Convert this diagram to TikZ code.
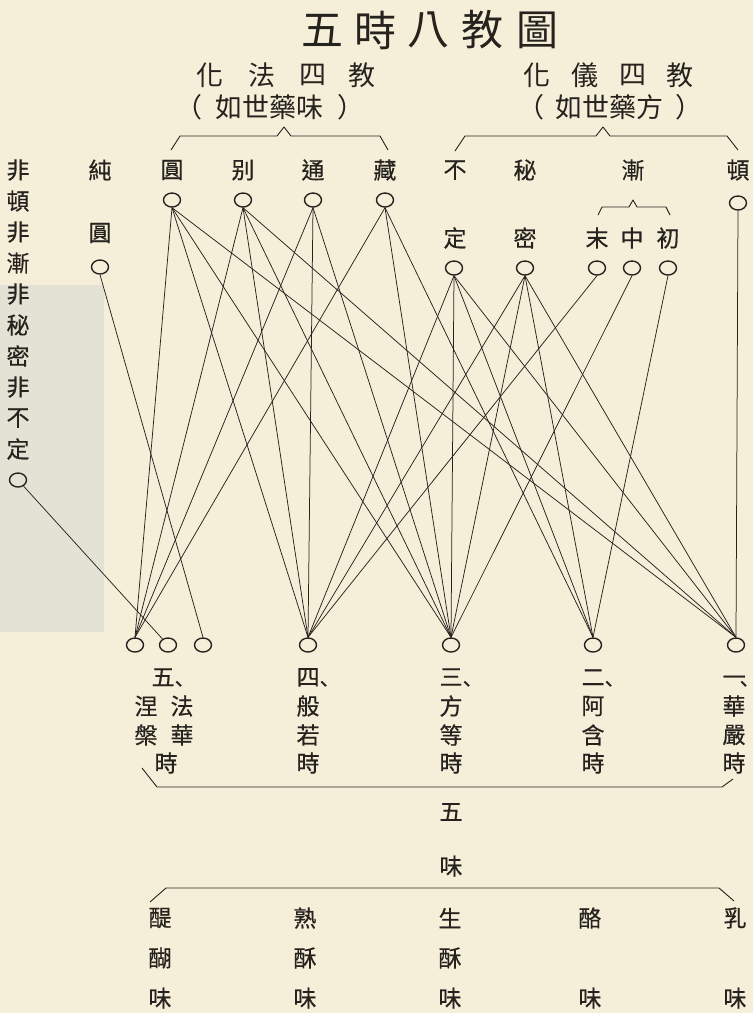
\documentclass[tikz,border=0pt]{standalone}
\usepackage{fontspec}
\newfontfamily\cjk{Noto Sans CJK TC}
\newfontfamily\cjkb[FakeBold=0.5]{Noto Sans CJK TC}
\newfontfamily\cjksc[FakeBold=0.5]{Noto Sans CJK SC}
\usetikzlibrary{shapes.geometric}
\definecolor{paper}{RGB}{245,239,217}
\definecolor{greybg}{RGB}{228,226,213}
\definecolor{ink}{RGB}{38,34,30}
\newcommand{\dunhao}{{\cjksc\fontsize{20}{20}\selectfont 、}}
\begin{document}
\begin{tikzpicture}[x=1pt,y=-1pt,
  lbl/.style={font=\cjkb\fontsize{23}{23}\selectfont, inner sep=0pt, text=ink},
  hd/.style={font=\cjk\fontsize{27}{27}\selectfont, inner sep=0pt, text=ink},
  ttl/.style={font=\cjk\fontsize{42}{42}\selectfont, inner sep=0pt, text=ink},
  num/.style={lbl, anchor=base west},
  dot/.style={ellipse, draw=ink, line width=1.4pt, minimum width=17pt, minimum height=14pt, inner sep=0pt},
  link/.style={draw=ink, line width=0.75pt},
  brk/.style={draw=ink, line width=0.9pt, line join=round},
]
\fill[paper] (0,0) rectangle (753,1013);
\useasboundingbox (0,0) rectangle (753,1013);
\fill[greybg] (0,285) rectangle (104,632);

% title
\foreach \c/\x [count=\i] in {五/322,時/375,八/428,教/482,圖/537}
  \node[ttl] (t\i) at (\x,30) {\c};
% headings
\foreach \c/\x [count=\i] in {化/210,法/262,四/313,教/362}
  \node[hd] (ha\i) at (\x,75) {\c};
\foreach \c/\x [count=\i] in {化/537,儀/585,四/633,教/680}
  \node[hd] (hb\i) at (\x,75) {\c};
\node[hd] (sa) at (270,107) {（\hspace{14pt}如世藥味\hspace{14pt}）};
\node[hd] (sb) at (610,107) {（\hspace{12pt}如世藥方\hspace{12pt}）};

% brackets on top
\draw[brk] (171,150) -- (180,136) -- (277,136) -- (284,127) -- (291,136) -- (380,136) -- (388,150);
\draw[brk] (455,151) -- (465,136) -- (596,136) -- (603,127) -- (610,136) -- (727,136) -- (738,150);
\draw[brk] (598,215) -- (602,207) -- (629,207) -- (633,200) -- (637,207) -- (666,207) -- (670,215);

% left column
\foreach \c [count=\i] in {非,頓,非,漸,非,秘,密,非,不,定}
  \node[lbl] (nn\i) at (18,{170+31*(\i-1)}) {\c};
\node[dot] (nn) at (18,480) {};

% row labels
\node[lbl] (l1) at (100,170) {純};
\node[lbl] (l1b) at (100,233) {圓};
\node[lbl] (l2) at (172,170) {圓};
\node[lbl] (l3) at (243,170) {别};
\node[lbl] (l4) at (313,170) {通};
\node[lbl] (l5) at (385,170) {藏};
\node[lbl] (l6) at (455,170) {不};
\node[lbl] (l6b) at (455,238) {定};
\node[lbl] (l7) at (525,170) {秘};
\node[lbl] (l7b) at (525,238) {密};
\node[lbl] (l8) at (633,170) {漸};
\node[lbl] (l8a) at (597,238) {末};
\node[lbl] (l8b) at (632,238) {中};
\node[lbl] (l8c) at (668,238) {初};
\node[lbl] (l9) at (738,170) {頓};

% top circles
\node[dot] (pure) at (100,267) {};
\node[dot] (c1) at (172,200) {};
\node[dot] (c2) at (243,200) {};
\node[dot] (c3) at (313,200) {};
\node[dot] (c4) at (385,200) {};
\node[dot] (dun) at (738,203) {};
\node[dot] (d1) at (454,268) {};
\node[dot] (d2) at (525,268) {};
\node[dot] (m1) at (597,268) {};
\node[dot] (m2) at (632,268) {};
\node[dot] (m3) at (668,268) {};

% bottom circles
\node[dot] (b5a) at (135,645) {};
\node[dot] (b5b) at (168,645) {};
\node[dot] (b5c) at (203,645) {};
\node[dot] (b4) at (308,645) {};
\node[dot] (b3) at (451,645) {};
\node[dot] (b2) at (593,645) {};
\node[dot] (b1) at (736,645) {};

% connectors
\foreach \a/\b in {c1/b5a,c1/b4,c1/b3,c1/b1,
                   c2/b5a,c2/b4,c2/b3,c2/b1,
                   c3/b5a,c3/b4,c3/b3,
                   c4/b5a,c4/b3,c4/b2,
                   d1/b4,d1/b3,d1/b2,d1/b1,
                   d2/b4,d2/b3,d2/b2,d2/b1,
                   m1/b4,m2/b3,m3/b2,dun/b1,pure/b5c}
  \draw[link] (\a.south) -- (\b.north);
\draw[link] (nn) -- (b5b);

% bottom labels
\node[num] (p5) at (151.5,685.5) {五\dunhao};
\node[lbl] (p5a) at (146,706) {涅};
\node[lbl] (p5b) at (146,735) {槃};
\node[lbl] (p5c) at (182,706) {法};
\node[lbl] (p5e) at (182,735) {華};
\node[lbl] (p5f) at (166,763) {時};
\foreach \x/\n/\s/\aa/\bb/\k in {308/4/四/般/若/0, 451/3/三/方/等/0, 593/2/二/阿/含/0, 734/1/一/華/嚴/-6}{
  \node[num] (p\n) at (\x-11.5,685.5) {\s\kern\k pt\dunhao};
  \node[lbl] (p\n a) at (\x,706) {\aa};
  \node[lbl] (p\n b) at (\x,735) {\bb};
  \node[lbl] (p\n c) at (\x,763) {時};
}

% bracket under periods
\draw[brk] (142,768) -- (157,787) -- (722,787) -- (733,779);
\node[lbl] (w1) at (451,812) {五};
\node[lbl] (w2) at (451,866) {味};
\draw[brk] (150,902) -- (166,888) -- (719,888) -- (734,901);

% five flavours
\foreach \x/\a/\b/\n in {160/醍/醐/1, 305/熟/酥/2, 450/生/酥/3}{
  \node[lbl] (f\n a) at (\x,918) {\a};
  \node[lbl] (f\n b) at (\x,958) {\b};
  \node[lbl] (f\n c) at (\x,998) {味};
}
\node[lbl] (f4a) at (590,918) {酪};
\node[lbl] (f4c) at (590,998) {味};
\node[lbl] (f5a) at (735,918) {乳};
\node[lbl] (f5c) at (735,998) {味};
\end{tikzpicture}
\end{document}
